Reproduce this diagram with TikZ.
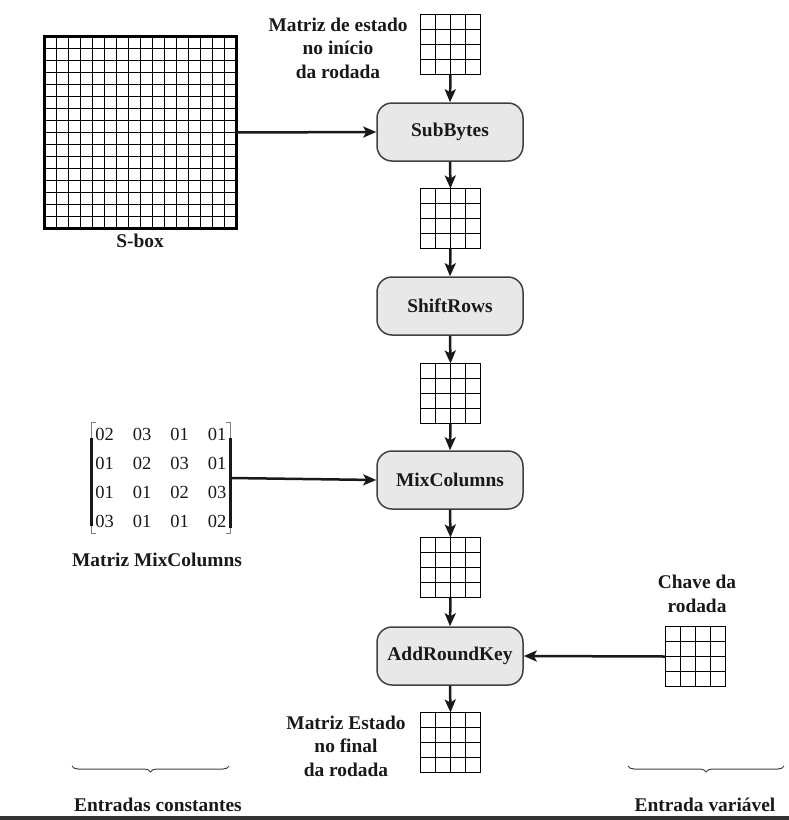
\documentclass[tikz,border=0pt]{standalone}
\usepackage{fontspec}
\setmainfont{Liberation Serif}
\usetikzlibrary{calc,arrows.meta,decorations.pathreplacing,matrix}
\begin{document}
\begin{tikzpicture}[x=1pt,y=-1pt,
  lbl/.style={font=\fontsize{19.4}{23.5}\selectfont\bfseries, text=black!90, align=center, inner sep=0},
  box/.style={draw=black!75, line width=1.5pt, fill=black!9, rounded corners=15pt,
    minimum width=146pt, minimum height=58pt, inner sep=0,
    font=\fontsize{19.4}{23.5}\selectfont\bfseries, text=black!90},
  cellgrid/.style={path picture={\foreach \k in {1,...,#1}{
      \draw[line width=1.45pt,black]
        ($(path picture bounding box.north west)!\k/#1!(path picture bounding box.north east)$) --
        ($(path picture bounding box.south west)!\k/#1!(path picture bounding box.south east)$);
      \draw[line width=1.45pt,black]
        ($(path picture bounding box.north west)!\k/#1!(path picture bounding box.south west)$) --
        ($(path picture bounding box.north east)!\k/#1!(path picture bounding box.south east)$);}}},
  state/.style={cellgrid=4, draw=black, line width=1.6pt, minimum size=60pt, inner sep=0, outer sep=0},
  sboxgrid/.style={cellgrid=16, draw=black, line width=3pt, minimum size=192pt, inner sep=0, outer sep=0},
  arr/.style={line width=2.5pt, draw=black!90, -{Stealth[length=13pt,width=11pt,inset=3pt]}},
  bracegray/.style={decorate, decoration={brace, mirror, amplitude=6pt}, draw=black!75, line width=1pt}
]
\useasboundingbox (0,0) rectangle (789,820);

% S-box
\node[sboxgrid] (sbox) at (140.5,132.5) {};
\node[lbl] (sboxlbl) at (140,241) {S-box};

% central column
\node[state] (g1) at (450.5,44.5) {};
\node[box] (sub) at (450,132) {SubBytes};
\node[state] (g2) at (450.5,218.5) {};
\node[box] (shift) at (450,306) {ShiftRows};
\node[state] (g3) at (450.5,393.5) {};
\node[box] (mix) at (450,480) {MixColumns};
\node[state] (g4) at (450.5,567.5) {};
\node[box] (ark) at (450,656) {AddRoundKey};
\node[state] (g5) at (450.5,742.5) {};

\node[lbl] (toplbl) at (338,48) {Matriz de estado\\no início\\da rodada};
\node[lbl] (botlbl) at (346,746) {Matriz Estado\\no final\\da rodada};

% round key
\node[state] (key) at (695.5,656.5) {};
\node[lbl] (keylbl) at (697,594) {Chave da\\rodada};

% MixColumns matrix
\matrix (mc) [matrix of nodes,
  nodes={inner sep=0, text height=12.2pt, text depth=0pt, font=\fontsize{18.5}{20}\selectfont, text=black!90},
  column sep=19pt, row sep=16.8pt, inner xsep=4pt, inner ysep=6pt] at (161,478)
{02 & 03 & 01 & 01\\
 01 & 02 & 03 & 01\\
 01 & 01 & 02 & 03\\
 03 & 01 & 01 & 02\\};
\draw[black!50, line width=1pt] ($(mc.north west)+(5,0)$) -- (mc.north west) -- (mc.south west) -- ($(mc.south west)+(5,0)$);
\draw[black!50, line width=1pt] ($(mc.north east)+(-5,0)$) -- (mc.north east) -- (mc.south east) -- ($(mc.south east)+(-5,0)$);
\draw[black!90, line width=3pt] ($(mc.north west)!0.14!(mc.south west)$) -- ($(mc.north west)!0.93!(mc.south west)$);
\draw[black!90, line width=3pt] ($(mc.north east)!0.14!(mc.south east)$) -- ($(mc.north east)!0.95!(mc.south east)$);
\node[lbl] (mclbl) at (157,560) {Matriz MixColumns};

% arrows
\draw[arr] (g1.south) -- (sub.north);
\draw[arr] (sub.south) -- (g2.north);
\draw[arr] (g2.south) -- (shift.north);
\draw[arr] (shift.south) -- (g3.north);
\draw[arr] (g3.south) -- (mix.north);
\draw[arr] (mix.south) -- (g4.north);
\draw[arr] (g4.south) -- (ark.north);
\draw[arr] (ark.south) -- (g5.north);
\draw[arr] (sbox.east) -- (sub.west);
\draw[arr] (mc.east) -- (mix.west);
\draw[arr] (key.west) -- (ark.east);

% braces
\coordinate (bl1) at (72,766);
\coordinate (bl2) at (229,766);
\coordinate (br1) at (628,766);
\coordinate (br2) at (784,766);
\draw[bracegray] (bl1) -- (bl2);
\draw[bracegray] (br1) -- (br2);
\node[lbl] (constlbl) at (158,805) {Entradas constantes};
\node[lbl] (varlbl) at (705,805) {Entrada variável};

% bottom bar
\fill[black!80] (0,816) rectangle (789,820);
\end{tikzpicture}
\end{document}
